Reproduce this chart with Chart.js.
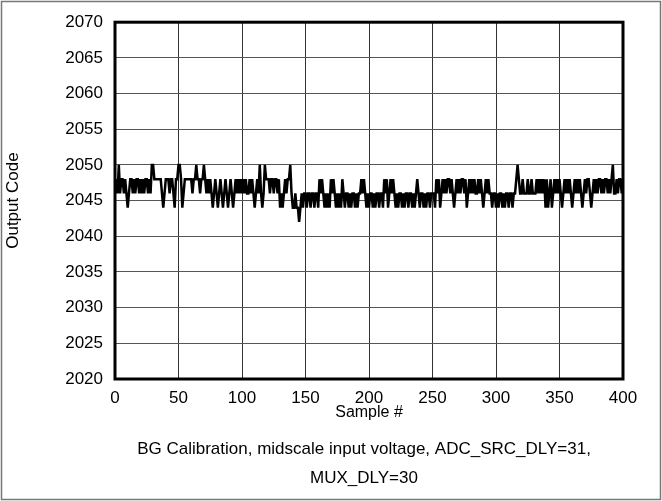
<!DOCTYPE html>
<html>
<head>
<meta charset="utf-8">
<script src="https://cdn.jsdelivr.net/npm/chart.js@4.4.1/dist/chart.umd.min.js"></script>
<style>
  html, body { margin: 0; padding: 0; background: #fff; }
  #wrap { width: 662px; height: 501px; }
</style>
</head>
<body>
<div id="wrap"><canvas id="c" width="662" height="501"></canvas></div>
<script>
// ── data (output code per sample, 0..400) ──
const xTicks = [0, 50, 100, 150, 200, 250, 300, 350, 400];
const yTicks = [2020, 2025, 2030, 2035, 2040, 2045, 2050, 2055, 2060, 2065, 2070];
const outputCode = [
  2046, 2048, 2046, 2050, 2046, 2048, 2048, 2046, 2048, 2046,
  2044, 2046, 2048, 2048, 2046, 2048, 2046, 2048, 2048, 2046,
  2048, 2046, 2048, 2046, 2048, 2048, 2046, 2048, 2046, 2050,
  2050, 2048, 2048, 2048, 2048, 2048, 2048, 2046, 2044, 2046,
  2048, 2048, 2048, 2046, 2048, 2048, 2046, 2044, 2048, 2048,
  2050, 2050, 2048, 2044, 2046, 2048, 2048, 2048, 2048, 2048,
  2048, 2046, 2048, 2048, 2050, 2048, 2048, 2046, 2048, 2048,
  2050, 2048, 2046, 2048, 2046, 2048, 2046, 2044, 2046, 2048,
  2046, 2044, 2046, 2048, 2046, 2044, 2046, 2048, 2046, 2044,
  2046, 2048, 2046, 2044, 2046, 2048, 2046, 2048, 2046, 2048,
  2046, 2048, 2046, 2048, 2046, 2046, 2048, 2046, 2048, 2046,
  2044, 2046, 2048, 2046, 2050, 2046, 2044, 2046, 2050, 2048,
  2048, 2048, 2046, 2048, 2048, 2046, 2048, 2048, 2046, 2048,
  2044, 2046, 2044, 2046, 2048, 2046, 2048, 2048, 2050, 2046,
  2044, 2044, 2046, 2044, 2044, 2042, 2044, 2046, 2044, 2046,
  2046, 2044, 2046, 2046, 2044, 2046, 2046, 2044, 2046, 2046,
  2044, 2048, 2046, 2048, 2046, 2044, 2046, 2044, 2046, 2044,
  2048, 2046, 2048, 2046, 2044, 2046, 2044, 2046, 2044, 2048,
  2046, 2044, 2046, 2046, 2044, 2046, 2044, 2046, 2046, 2044,
  2046, 2044, 2046, 2046, 2048, 2046, 2048, 2046, 2044, 2046,
  2044, 2046, 2046, 2044, 2046, 2044, 2046, 2046, 2044, 2046,
  2046, 2044, 2048, 2046, 2048, 2044, 2046, 2048, 2046, 2048,
  2046, 2044, 2046, 2044, 2046, 2046, 2044, 2046, 2044, 2046,
  2046, 2044, 2046, 2046, 2044, 2046, 2044, 2046, 2048, 2046,
  2044, 2046, 2046, 2044, 2046, 2044, 2046, 2046, 2044, 2046,
  2046, 2046, 2044, 2048, 2046, 2048, 2044, 2046, 2048, 2046,
  2048, 2046, 2048, 2048, 2046, 2048, 2046, 2044, 2046, 2048,
  2046, 2048, 2046, 2048, 2048, 2046, 2048, 2044, 2046, 2048,
  2046, 2048, 2046, 2048, 2046, 2046, 2048, 2046, 2048, 2046,
  2044, 2046, 2048, 2046, 2048, 2046, 2046, 2044, 2046, 2046,
  2044, 2046, 2044, 2046, 2046, 2044, 2046, 2044, 2046, 2046,
  2044, 2046, 2046, 2044, 2046, 2046, 2048, 2050, 2048, 2046,
  2046, 2048, 2046, 2046, 2046, 2048, 2046, 2046, 2048, 2046,
  2046, 2046, 2048, 2046, 2048, 2046, 2048, 2046, 2048, 2044,
  2048, 2044, 2046, 2048, 2044, 2046, 2048, 2046, 2048, 2046,
  2048, 2046, 2044, 2046, 2048, 2046, 2048, 2046, 2048, 2046,
  2044, 2046, 2048, 2046, 2048, 2046, 2048, 2046, 2044, 2046,
  2048, 2046, 2048, 2048, 2046, 2044, 2046, 2048, 2046, 2048,
  2046, 2048, 2048, 2046, 2048, 2046, 2048, 2048, 2046, 2048,
  2046, 2048, 2050, 2046, 2046, 2048, 2046, 2048, 2048, 2046,
  2048
];
const xTitle = 'Sample #';
const yTitle = 'Output Code';
const caption = ['BG Calibration, midscale input voltage, ADC_SRC_DLY=31,', 'MUX_DLY=30'];

const FONT = '"Liberation Sans", Arial, sans-serif';

// frame, plot border and the text outside the axes
const decor = {
  id: 'decor',
  afterDraw(chart) {
    const { ctx, chartArea: a } = chart;
    ctx.save();
    ctx.strokeStyle = '#777';
    ctx.lineWidth = 1.5;
    ctx.strokeRect(1.5, 1.5, 659, 498);

    ctx.strokeStyle = '#000';
    ctx.lineWidth = 3;
    ctx.strokeRect(a.left, a.top, a.right - a.left, a.bottom - a.top);

    ctx.fillStyle = '#000';
    ctx.textAlign = 'center';
    ctx.textBaseline = 'middle';
    ctx.font = '16px ' + FONT;
    ctx.fillText(xTitle, (a.left + a.right) / 2, 413);
    ctx.font = '17px ' + FONT;
    ctx.fillText(caption[0], 364, 449);
    ctx.fillText(caption[1], 364, 478);

    ctx.translate(13, (a.top + a.bottom) / 2);
    ctx.rotate(-Math.PI / 2);
    ctx.font = '17px ' + FONT;
    ctx.fillText(yTitle, 0, 0);
    ctx.restore();
  }
};

new Chart(document.getElementById('c'), {
  type: 'line',
  data: {
    datasets: [{
      data: outputCode.map((v, i) => ({ x: i, y: v })),
      borderColor: '#000',
      borderWidth: 2.5,
      pointRadius: 0,
      tension: 0,
      fill: false,
    }],
  },
  options: {
    responsive: false,
    animation: false,
    devicePixelRatio: 1,
    layout: { padding: { top: 19, right: 39, left: 0, bottom: 0 } },
    plugins: { legend: { display: false }, tooltip: { enabled: false } },
    scales: {
      x: {
        type: 'linear', min: 0, max: 400,
        afterBuildTicks: s => { s.ticks = xTicks.map(v => ({ value: v })); },
        afterFit: s => { s.height = 122; },
        grid: { color: '#333', lineWidth: 1, drawTicks: false },
        border: { display: false },
        ticks: { color: '#000', font: { family: FONT, size: 17 }, padding: 9, maxRotation: 0, callback: v => String(v) },
      },
      y: {
        min: 2020, max: 2070,
        afterBuildTicks: s => { s.ticks = yTicks.map(v => ({ value: v })); },
        afterFit: s => { s.width = 115; },
        grid: { color: '#555', lineWidth: 1, drawTicks: false },
        border: { display: false },
        ticks: { color: '#000', font: { family: FONT, size: 17 }, padding: 12, callback: v => String(v) },
      },
    },
  },
  plugins: [decor],
});
</script>
</body>
</html>
